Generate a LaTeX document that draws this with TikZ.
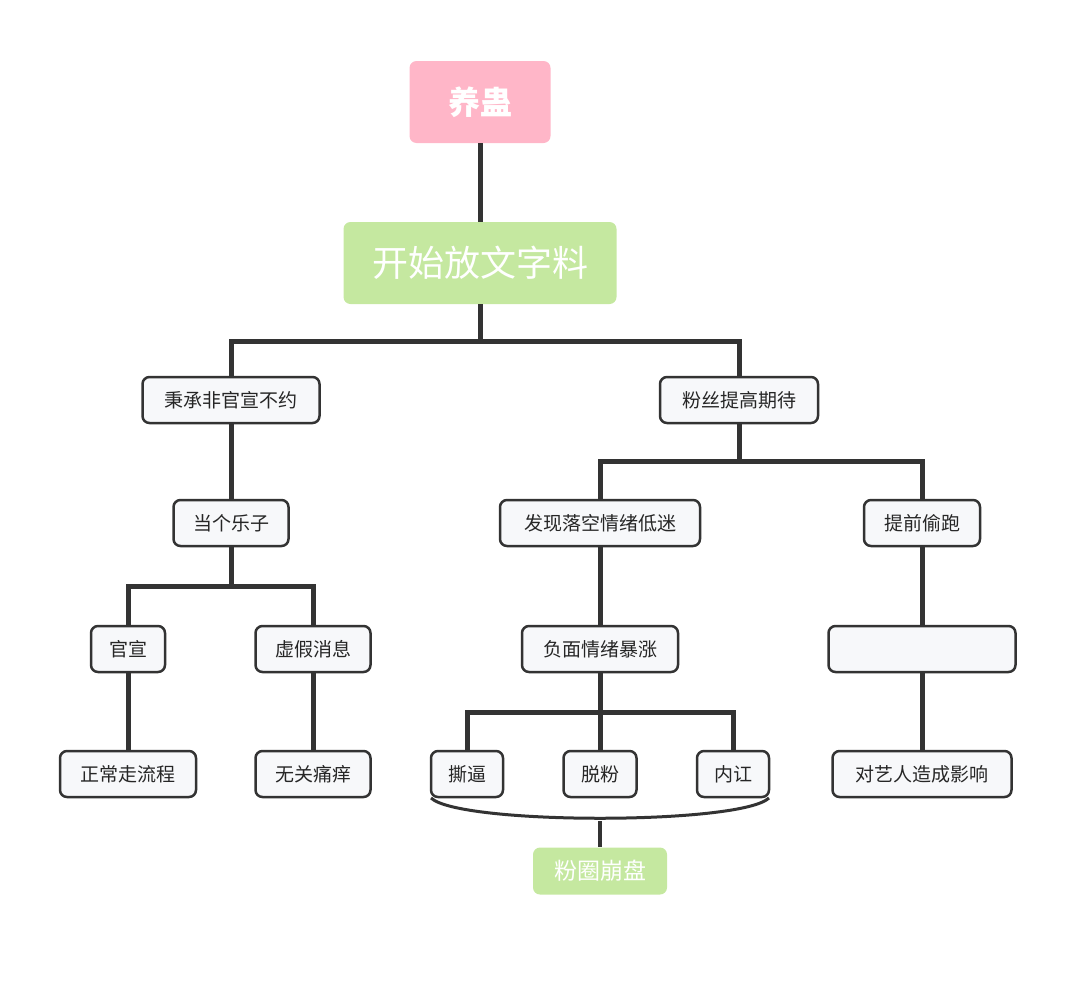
\documentclass[tikz,border=0pt]{standalone}
\usepackage{fontspec}
\setmainfont{Noto Sans CJK SC}
\begin{document}
\begin{tikzpicture}[x=1pt,y=-1pt,
  box/.style={draw=black!80,line width=2.5pt,rounded corners=7pt,fill={rgb,255:red,247;green,248;blue,250},minimum height=46pt,inner xsep=10pt,font=\fontsize{19}{22}\selectfont,text=black!85},
  big/.style={rounded corners=7pt,text=white},
  ln/.style={draw=black!80,line width=5pt}]
\useasboundingbox (0,0) rectangle (1075,985);
\node[big,fill={rgb,255:red,255;green,182;blue,200},minimum width=141pt,minimum height=82pt,font=\fontsize{32}{36}\selectfont\bfseries] (a) at (480,102) {养蛊};
\node[big,fill={rgb,255:red,197;green,232;blue,160},minimum width=273pt,minimum height=82pt,font=\fontsize{36}{40}\selectfont] (b) at (480,263) {开始放文字料};
\node[box,minimum width=177pt] (c1) at (231,400) {秉承非官宣不约};
\node[box,minimum width=158pt] (c2) at (739,400) {粉丝提高期待};
\node[box,minimum width=115pt] (d1) at (231,523) {当个乐子};
\node[box,minimum width=200pt] (d2) at (600,523) {发现落空情绪低迷};
\node[box,minimum width=116pt] (d3) at (922,523) {提前偷跑};
\node[box,minimum width=74pt] (e1) at (128,649) {官宣};
\node[box,minimum width=115pt] (e2) at (313,649) {虚假消息};
\node[box,minimum width=156pt] (e3) at (600,649) {负面情绪暴涨};
\node[box,minimum width=187pt] (e4) at (922,649) {};
\node[box,minimum width=136pt] (f1) at (128,774) {正常走流程};
\node[box,minimum width=115pt] (f2) at (313,774) {无关痛痒};
\node[box,minimum width=72pt] (f3) at (467,774) {撕逼};
\node[box,minimum width=73pt] (f4) at (600,774) {脱粉};
\node[box,minimum width=72pt] (f5) at (733,774) {内讧};
\node[box,minimum width=179pt] (f6) at (922,774) {对艺人造成影响};
\node[big,fill={rgb,255:red,197;green,232;blue,160},minimum width=134pt,minimum height=47pt,font=\fontsize{23}{26}\selectfont] (g) at (600,871) {粉圈崩盘};
\draw[ln] (a.south) -- (b.north);
\draw[ln] (b.south) -- (480,341) -| (c1.north);
\draw[ln] (480,341) -| (c2.north);
\draw[ln] (c1.south) -- (d1.north);
\draw[ln] (c2.south) -- (739,461) -| (d2.north);
\draw[ln] (739,461) -| (d3.north);
\draw[ln] (d1.south) -- (231,586) -| (e1.north);
\draw[ln] (231,586) -| (e2.north);
\draw[ln] (d2.south) -- (e3.north);
\draw[ln] (d3.south) -- (e4.north);
\draw[ln] (e1.south) -- (f1.north);
\draw[ln] (e2.south) -- (f2.north);
\draw[ln] (e3.south) -- (600,712) -| (f3.north);
\draw[ln] (600,712) -- (f4.north);
\draw[ln] (600,712) -| (f5.north);
\draw[ln] (e4.south) -- (f6.north);
\coordinate (bl) at (431,798);
\coordinate (br) at (769,798);
\coordinate (bm) at (600,821);
\draw[draw=black!80,line width=3pt] (bl) .. controls (460,825) and (740,825) .. (br);
\draw[draw=black!80,line width=4pt] (bm) -- (g.north);
\end{tikzpicture}
\end{document}
